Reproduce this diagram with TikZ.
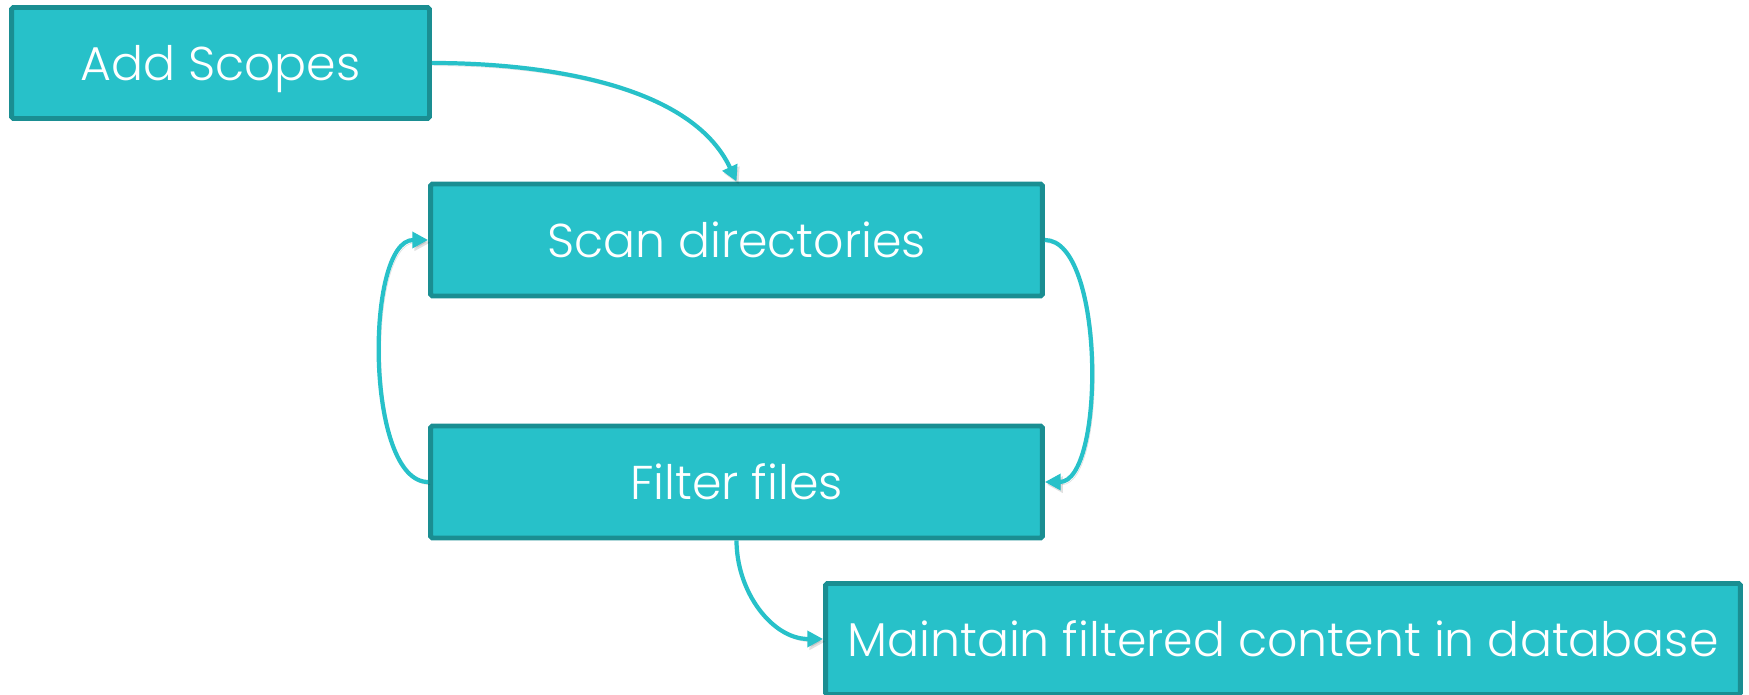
\documentclass[tikz,border=0pt]{standalone}
\usepackage{fontspec}
\setmainfont{Poppins}[UprightFont=* Light]
\usetikzlibrary{positioning,arrows.meta}
\definecolor{tealfill}{HTML}{27C1C9}
\definecolor{tealedge}{HTML}{1A8E92}

\begin{document}
\begin{tikzpicture}[
    x=0.02cm, y=-0.02cm,
    stepbox/.style={draw=tealedge, fill=tealfill, line width=2.8pt,
      rounded corners=1pt, text=white, font=\fontsize{27}{32}\selectfont,
      inner sep=0pt},
    arr/.style={-{Triangle[length=9pt, width=9pt]}, line width=2.4pt, tealfill,
      preaction={draw=black, opacity=0.12, transform canvas={shift={(1.2pt,-1.5pt)}}}},
  ]
    \useasboundingbox (0,0) rectangle (1749,695);

    % ===== boxes =====
    \node[stepbox, minimum width=8.36cm, minimum height=2.22cm] (scopes) at (220.5, 63) {\raisebox{-0.12cm}[\height][\depth]{Add Scopes}};
    \node[stepbox, minimum width=12.24cm, minimum height=2.24cm] (scan) at (736.5, 240) {Scan directories};
    \node[stepbox, minimum width=12.24cm, minimum height=2.24cm] (filter) at (736.5, 482) {Filter files};
    \node[stepbox, minimum width=18.3cm, minimum height=2.22cm] (store) at (1283, 639) {Maintain filtered content in database};

    % ===== connectors =====
    \draw[arr] (scopes.east) to[out=0, in=115, looseness=0.85] (scan.north);
    \draw[arr] (scan.east) to[out=0, in=0, looseness=0.64] (filter.east);
    \draw[arr] (filter.west) to[out=180, in=180, looseness=0.67] (scan.west);
    \draw[arr] (filter.south) to[out=-90, in=180] (store.west);

\end{tikzpicture}
\end{document}
